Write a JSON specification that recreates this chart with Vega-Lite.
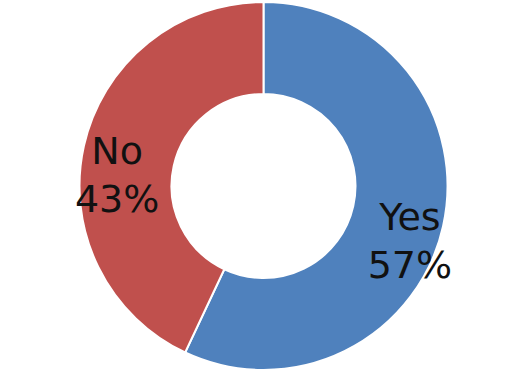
{
  "$schema": "https://vega.github.io/schema/vega-lite/v6.json",
  "width": 527,
  "height": 372,
  "padding": 0,
  "autosize": {"type": "fit", "contains": "padding"},
  "background": "white",
  "view": {"stroke": null},
  "data": {"values": [
    {"answer": "Yes", "percent": 57, "label": "Yes\n57%"},
    {"answer": "No", "percent": 43, "label": "No\n43%"}
  ]},
  "encoding": {
    "theta": {"field": "percent", "type": "quantitative", "stack": true},
    "order": {"field": "percent", "sort": "descending"},
    "color": {"field": "answer", "type": "nominal", "legend": null,
      "scale": {"domain": ["Yes", "No"], "range": ["#4F81BD", "#C0504D"]}}
  },
  "layer": [
    {"mark": {"type": "arc", "outerRadius": 184, "innerRadius": 92, "stroke": "white", "strokeWidth": 2}},
    {"mark": {"type": "text", "radius": 150, "font": "DejaVu Sans", "fontSize": 38, "lineBreak": "\n", "lineHeight": 48, "baseline": "middle", "align": "center"},
     "encoding": {"text": {"field": "label"}, "color": {"value": "#111111"}}}
  ]
}
